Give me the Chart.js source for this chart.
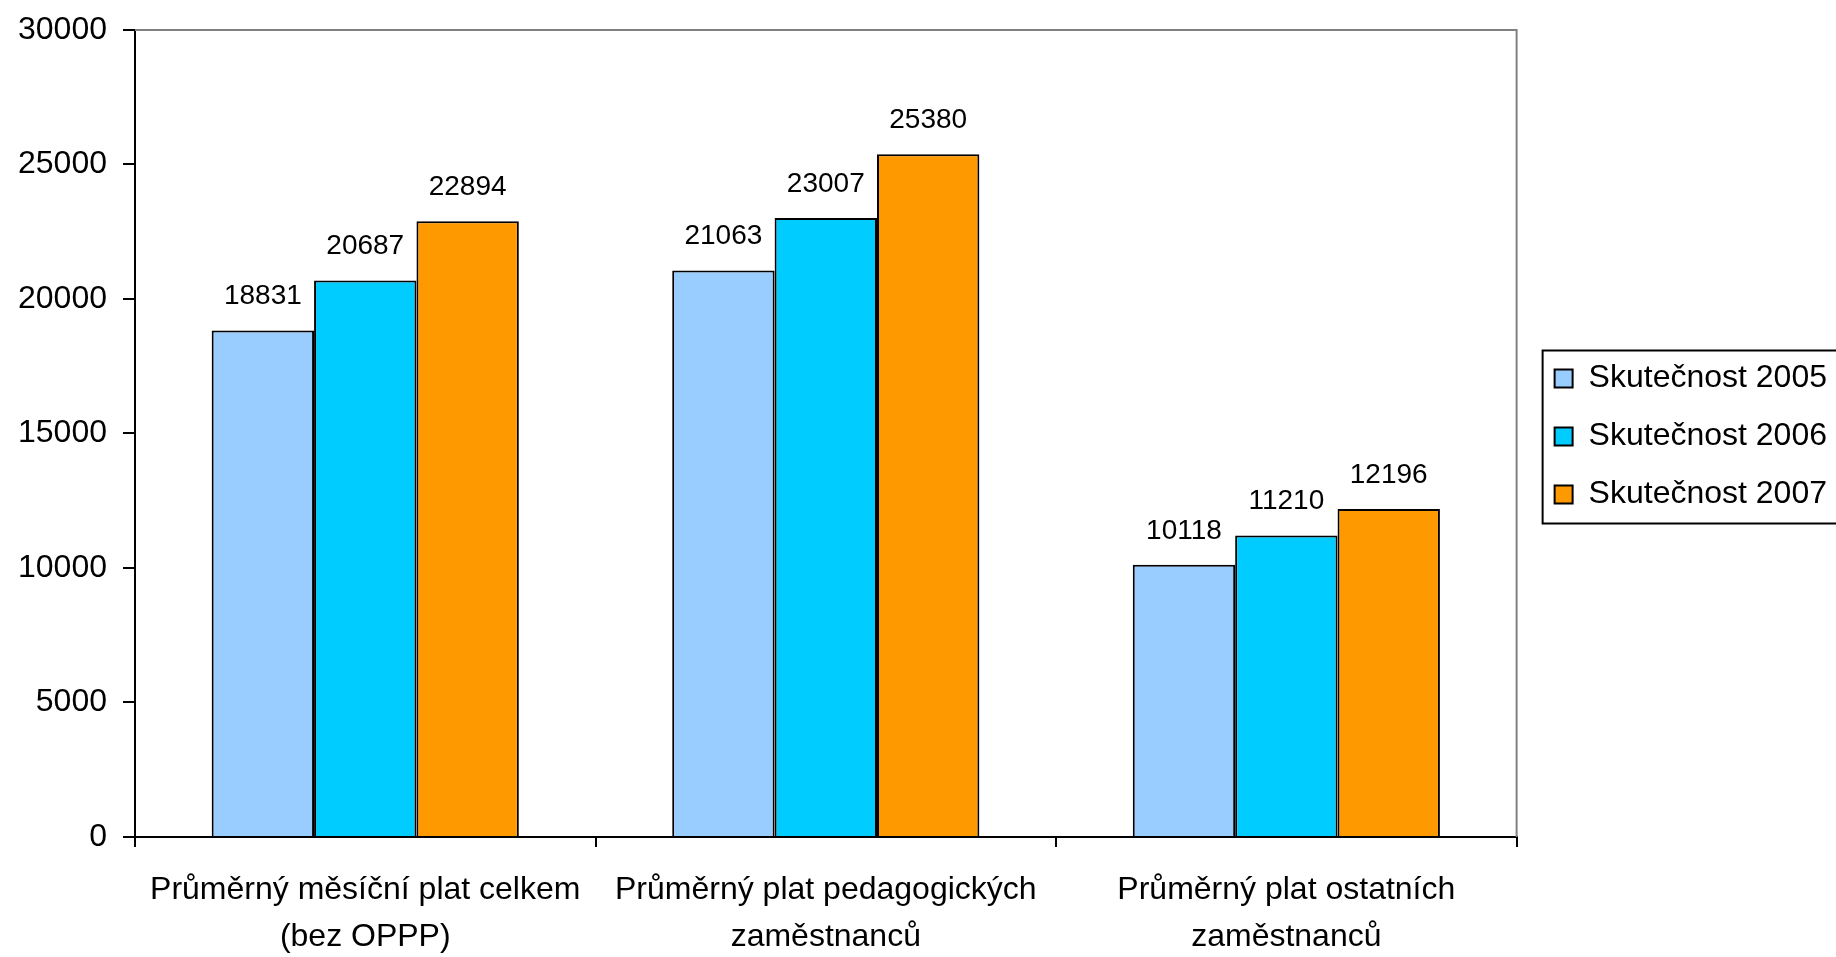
<!DOCTYPE html>
<html>
<head>
<meta charset="utf-8">
<script src="https://cdn.jsdelivr.net/npm/chart.js@4/dist/chart.umd.min.js"></script>
<style>
  html, body { margin: 0; padding: 0; background: #fff; }
</style>
</head>
<body>
<canvas id="platyChart" width="1836" height="957"></canvas>
<script>
        const categories = [
            ['Průměrný měsíční plat celkem', '(bez OPPP)'],
            ['Průměrný plat pedagogických', 'zaměstnanců'],
            ['Průměrný plat ostatních', 'zaměstnanců']
        ];
        const seriesNames = ['Skutečnost 2005', 'Skutečnost 2006', 'Skutečnost 2007'];
        const values2005 = [18831, 21063, 10118];
        const values2006 = [20687, 23007, 11210];
        const values2007 = [22894, 25380, 12196];
        const yMin = 0;
        const yMax = 30000;
        const yStep = 5000;

        const FONT = "'Liberation Sans', Arial, sans-serif";

        // value labels above the bars
        const valueLabels = {
            id: 'valueLabels',
            afterDatasetsDraw(chart) {
                const ctx = chart.ctx;
                ctx.save();
                ctx.font = '28px ' + FONT;
                ctx.fillStyle = '#000';
                ctx.textAlign = 'center';
                ctx.textBaseline = 'alphabetic';
                chart.data.datasets.forEach((ds, i) => {
                    chart.getDatasetMeta(i).data.forEach((bar, j) => {
                        ctx.fillText(String(ds.data[j]), bar.x, bar.y - 26);
                    });
                });
                ctx.restore();
            }
        };

        // grey plot frame (top + right) and the box round the legend
        const frames = {
            id: 'frames',
            afterLayout(chart) {
                chart.legend.left += 12;
                chart.legend.right += 12;
                chart.legend.top -= 69;
                chart.legend.bottom -= 69;
            },
            afterDraw(chart) {
                const ctx = chart.ctx;
                const a = chart.chartArea;
                ctx.save();
                ctx.strokeStyle = '#808080';
                ctx.lineWidth = 2;
                ctx.beginPath();
                ctx.moveTo(a.left, a.top);
                ctx.lineTo(a.right, a.top);
                ctx.lineTo(a.right, a.bottom);
                ctx.stroke();

                const hb = chart.legend.legendHitBoxes;
                if (hb && hb.length) {
                    const top = hb[0].top - 12;
                    const last = hb[hb.length - 1];
                    const bottom = last.top + last.height + 13;
                    ctx.strokeStyle = '#000';
                    ctx.lineWidth = 2;
                    ctx.strokeRect(hb[0].left - 12, top, 400, bottom - top);
                }
                ctx.restore();
            }
        };

        const ctx = document.getElementById('platyChart').getContext('2d');
        const platyChart = new Chart(ctx, {
            type: 'bar',
            data: {
                labels: categories,
                datasets: [{
                    label: seriesNames[0],
                    data: values2005,
                    backgroundColor: '#99CCFF',
                    borderColor: '#000',
                    borderWidth: 2
                }, {
                    label: seriesNames[1],
                    data: values2006,
                    backgroundColor: '#00CCFF',
                    borderColor: '#000',
                    borderWidth: 2
                }, {
                    label: seriesNames[2],
                    data: values2007,
                    backgroundColor: '#FF9900',
                    borderColor: '#000',
                    borderWidth: 2
                }]
            },
            options: {
                responsive: false,
                animation: false,
                categoryPercentage: 0.667,
                barPercentage: 1.0,
                layout: {
                    padding: { left: 2, top: 30, right: 11, bottom: -24 }
                },
                plugins: {
                    tooltip: { enabled: false },
                    legend: {
                        position: 'right',
                        labels: {
                            boxWidth: 18,
                            boxHeight: 18,
                            padding: 26,
                            color: '#000',
                            font: { family: FONT, size: 32 }
                        }
                    }
                },
                scales: {
                    y: {
                        min: yMin,
                        max: yMax,
                        afterFit(scale) {
                            scale.paddingTop = 0;
                        },
                        border: { display: true, color: '#000', width: 2 },
                        grid: {
                            drawOnChartArea: false,
                            drawTicks: true,
                            tickLength: 12,
                            color: '#000',
                            lineWidth: 2
                        },
                        ticks: {
                            stepSize: yStep,
                            padding: 16,
                            color: '#000',
                            font: { family: FONT, size: 32 },
                            callback: (v) => String(v)
                        }
                    },
                    x: {
                        border: { display: true, color: '#000', width: 2 },
                        grid: {
                            offset: true,
                            drawOnChartArea: false,
                            tickLength: 10,
                            color: '#000',
                            lineWidth: 2
                        },
                        ticks: {
                            padding: 20,
                            autoSkip: false,
                            maxRotation: 0,
                            color: '#000',
                            font: { family: FONT, size: 32, lineHeight: 1.47 }
                        }
                    }
                }
            },
            plugins: [valueLabels, frames]
        });
</script>
</body>
</html>
